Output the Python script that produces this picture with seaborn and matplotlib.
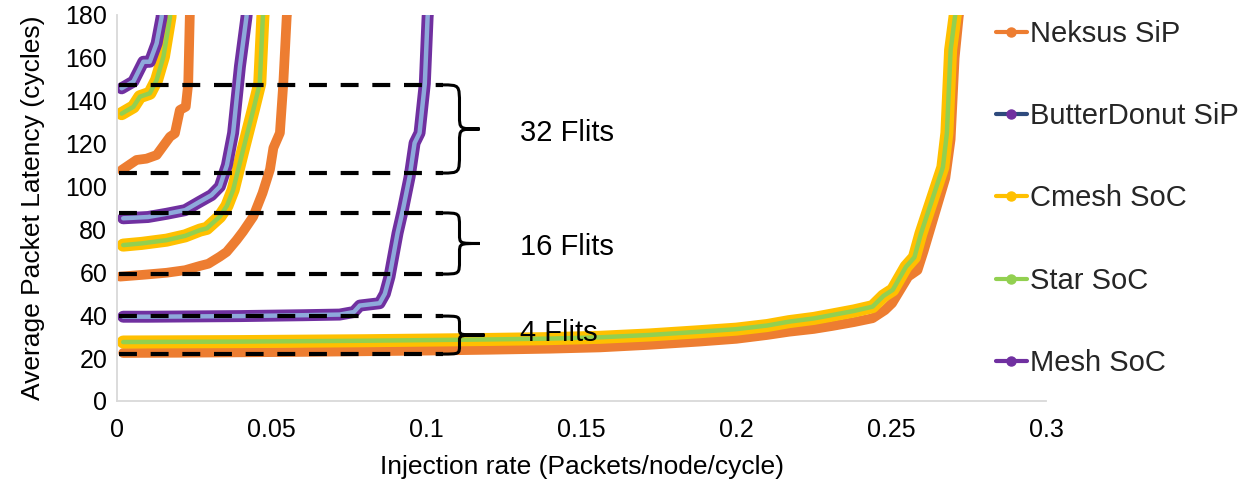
import matplotlib
matplotlib.use("Agg")
import matplotlib.pyplot as plt
from matplotlib.lines import Line2D
from matplotlib.path import Path
from matplotlib.patches import PathPatch
import pandas as pd
import seaborn as sns

# ---- latency curves: injection rate (packets/node/cycle) vs latency (cycles) ----
# 4-flit packets
neksus_4_x = [0.002, 0.02, 0.04, 0.06, 0.08, 0.10, 0.12, 0.14, 0.156, 0.172, 0.188, 0.20, 0.21,
              0.217, 0.225, 0.231, 0.238, 0.244, 0.248, 0.2503, 0.2555, 0.2585, 0.2605, 0.264,
              0.2675, 0.2692, 0.2705, 0.2718, 0.2728]
neksus_4_y = [22.4, 22.5, 22.7, 22.9, 23.2, 23.5, 23.9, 24.4, 25.0, 26.2, 27.7, 29.0, 30.8,
              32.3, 33.6, 35.0, 36.8, 38.6, 42.4, 45.6, 58.0, 61.0, 70.0, 87.0,
              104.0, 122.0, 160.0, 179.0, 190.0]
cmesh_4_x = [0.002, 0.02, 0.04, 0.06, 0.08, 0.10, 0.12, 0.14, 0.156, 0.172, 0.188, 0.20, 0.21,
             0.217, 0.225, 0.231, 0.238, 0.244, 0.2475, 0.2505, 0.2548, 0.2575, 0.2596, 0.2632,
             0.2667, 0.268, 0.2692, 0.2706, 0.2716]
cmesh_4_y = [27.5, 27.6, 27.7, 27.9, 28.1, 28.4, 28.7, 29.1, 29.7, 30.8, 32.3, 33.5, 35.2,
             37.0, 38.5, 40.1, 42.0, 44.0, 49.0, 51.8, 62.6, 67.0, 78.0, 93.7,
             109.0, 125.0, 163.7, 179.0, 190.0]
star_4_y = [27.5, 27.6, 27.7, 27.9, 28.1, 28.4, 28.7, 29.1, 29.7, 30.8, 32.3, 33.5, 35.2,
            37.0, 38.5, 40.1, 42.0, 44.0, 49.0, 51.8, 62.6, 67.0, 78.0, 93.7,
            109.0, 125.0, 163.7, 179.0, 190.0]
mesh_4_x = [0.002, 0.01, 0.02, 0.03, 0.04, 0.05, 0.06, 0.0719, 0.0765, 0.0784, 0.0848, 0.0865,
            0.088, 0.0906, 0.0923, 0.0945, 0.0961, 0.0977, 0.0994, 0.1003, 0.101]
mesh_4_y = [39.3, 39.3, 39.4, 39.5, 39.6, 39.8, 40.0, 40.3, 41.5, 44.5, 45.6, 50.0,
            58.0, 78.3, 89.0, 104.6, 120.3, 125.0, 148.0, 179.0, 192.0]
butter_4_y = [39.3, 39.3, 39.4, 39.5, 39.6, 39.8, 40.0, 40.3, 41.5, 44.5, 45.6, 50.0,
              58.0, 78.3, 89.0, 104.6, 120.3, 125.0, 148.0, 179.0, 192.0]

# 16-flit packets
neksus_16_x = [0.001, 0.008, 0.016, 0.022, 0.0268, 0.0295, 0.0332, 0.0354, 0.0386, 0.0407,
               0.044, 0.047, 0.0494, 0.0505, 0.0526, 0.0537, 0.0548, 0.0555]
neksus_16_y = [58.0, 58.8, 59.8, 61.0, 63.0, 64.0, 67.3, 69.5, 75.0, 79.0,
               86.0, 97.0, 108.0, 118.0, 125.0, 148.0, 179.0, 190.0]
cmesh_16_x = [0.002, 0.008, 0.016, 0.022, 0.0268, 0.029, 0.0332, 0.0355, 0.0375, 0.0407,
              0.044, 0.0461, 0.0471, 0.0477]
cmesh_16_y = [72.7, 73.5, 75.0, 77.0, 79.7, 80.5, 86.0, 91.0, 98.4, 117.0,
              135.7, 148.0, 179.0, 190.0]
star_16_y = [72.7, 73.5, 75.0, 77.0, 79.7, 80.5, 86.0, 91.0, 98.4, 117.0,
             135.7, 148.0, 179.0, 190.0]
mesh_16_x = [0.002, 0.01, 0.016, 0.022, 0.0268, 0.0305, 0.0332, 0.0355, 0.0375, 0.0397,
             0.0418, 0.0425]
mesh_16_y = [85.2, 85.8, 87.3, 89.0, 93.0, 96.0, 100.0, 110.0, 125.0, 156.0, 179.0, 190.0]
butter_16_y = [85.2, 85.8, 87.3, 89.0, 93.0, 96.0, 100.0, 110.0, 125.0, 156.0, 179.0, 190.0]

# 32-flit packets
neksus_32_x = [0.0015, 0.0063, 0.0095, 0.0128, 0.0171, 0.0187, 0.0203, 0.0222, 0.023, 0.0235,
               0.0238]
neksus_32_y = [107.7, 112.4, 113.0, 114.7, 123.2, 124.8, 135.7, 137.2, 148.0, 179.0, 190.0]
cmesh_32_x = [0.0015, 0.0053, 0.0074, 0.0106, 0.0128, 0.015, 0.0171, 0.0176]
cmesh_32_y = [134.0, 137.2, 141.9, 143.5, 149.7, 160.6, 179.0, 190.0]
star_32_y = [134.0, 137.2, 141.9, 143.5, 149.7, 160.6, 179.0, 190.0]
mesh_32_x = [0.0015, 0.0053, 0.0085, 0.0106, 0.0128, 0.0144, 0.0149]
mesh_32_y = [145.8, 149.0, 158.2, 158.2, 166.8, 179.0, 190.0]
butter_32_y = [145.8, 149.0, 158.2, 158.2, 166.8, 179.0, 190.0]

# packet-size groups: label, dashed bounds, label height
group_labels = ["4 Flits", "16 Flits", "32 Flits"]
group_low = [21.9, 59.2, 106.3]
group_high = [39.6, 87.7, 147.4]
group_label_y = [31.9, 71.6, 125.0]

x_ticks = [0, 0.05, 0.1, 0.15, 0.2, 0.25, 0.3]
x_tick_labels = ["0", "0.05", "0.1", "0.15", "0.2", "0.25", "0.3"]
y_ticks = list(range(0, 181, 20))

legend_order = ["Neksus SiP", "ButterDonut SiP", "Cmesh SoC", "Star SoC", "Mesh SoC"]

# ---- long-form table ----
curves = {
    "Neksus SiP": [(4, neksus_4_x, neksus_4_y), (16, neksus_16_x, neksus_16_y), (32, neksus_32_x, neksus_32_y)],
    "Cmesh SoC": [(4, cmesh_4_x, cmesh_4_y), (16, cmesh_16_x, cmesh_16_y), (32, cmesh_32_x, cmesh_32_y)],
    "Star SoC": [(4, cmesh_4_x, star_4_y), (16, cmesh_16_x, star_16_y), (32, cmesh_32_x, star_32_y)],
    "Mesh SoC": [(4, mesh_4_x, mesh_4_y), (16, mesh_16_x, mesh_16_y), (32, mesh_32_x, mesh_32_y)],
    "ButterDonut SiP": [(4, mesh_4_x, butter_4_y), (16, mesh_16_x, butter_16_y), (32, mesh_32_x, butter_32_y)],
}
rows = []
for topo, parts in curves.items():
    for flits, xs, ys in parts:
        for xv, yv in zip(xs, ys):
            rows.append({"topology": topo, "flits": flits, "rate": xv, "latency": yv})
df = pd.DataFrame(rows)

# ---- style ----
sns.set_theme(style="white")
plt.rcParams["font.family"] = ["Liberation Sans", "DejaVu Sans"]

ORANGE = "#ED7D31"
PURPLE = "#7030A0"
LIGHTBLUE = "#8EA9DB"
YELLOW = "#FFC000"
GREEN = "#92D050"
NAVY = "#2E4A7D"

# drawing order, colour and width of each series
styles = [
    ("Neksus SiP", ORANGE, 7.0),
    ("Cmesh SoC", YELLOW, 9.4),
    ("Star SoC", GREEN, 3.2),
    ("Mesh SoC", PURPLE, 8.6),
    ("ButterDonut SiP", LIGHTBLUE, 3.2),
]

fig = plt.figure(figsize=(12.48, 4.86), dpi=100)
ax = fig.add_axes([117 / 1248, 1 - 401 / 486, (1046 - 117) / 1248, (401 - 15) / 486])

for topo, color, lw in styles:
    sub = df[df["topology"] == topo]
    sns.lineplot(data=sub, x="rate", y="latency", units="flits", estimator=None, sort=False,
                 color=color, linewidth=lw, legend=False, ax=ax,
                 solid_capstyle="round", solid_joinstyle="round")

ax.set_xlim(0, 0.3)
ax.set_ylim(0, 180)
ax.set_xticks(x_ticks)
ax.set_xticklabels(x_tick_labels)
ax.set_yticks(y_ticks)
ax.tick_params(axis="both", length=0, labelsize=18, colors="#000000")
ax.tick_params(axis="x", pad=12)
ax.tick_params(axis="y", pad=7)

for side in ["top", "right"]:
    ax.spines[side].set_visible(False)
for side in ["left", "bottom"]:
    ax.spines[side].set_color("#D9D9D9")
    ax.spines[side].set_linewidth(1.3)

ax.set_xlabel("Injection rate (Packets/node/cycle)", fontsize=19, color="black")
ax.set_ylabel("Average Packet Latency (cycles)", fontsize=19, color="black")
ax.xaxis.set_label_coords(0.5, -0.14)
ax.yaxis.set_label_coords(-0.077, 0.5)


# ---- dashed bounds and curly braces for each packet size ----
def curly_brace(axis, x_left, x_mid, x_tip, y_top, y_bot):
    y_mid = (y_top + y_bot) / 2
    half = (y_top - y_bot) / 2
    r1 = 0.45 * half
    r2 = 0.3 * half
    verts = [
        (x_left, y_top), (x_mid, y_top), (x_mid, y_top), (x_mid, y_top - r1),
        (x_mid, y_mid + r2),
        (x_mid, y_mid), (x_mid, y_mid), (x_tip, y_mid),
        (x_mid, y_mid), (x_mid, y_mid), (x_mid, y_mid - r2),
        (x_mid, y_bot + r1),
        (x_mid, y_bot), (x_mid, y_bot), (x_left, y_bot),
    ]
    codes = [Path.MOVETO, Path.CURVE4, Path.CURVE4, Path.CURVE4,
             Path.LINETO,
             Path.CURVE4, Path.CURVE4, Path.CURVE4,
             Path.CURVE4, Path.CURVE4, Path.CURVE4,
             Path.LINETO,
             Path.CURVE4, Path.CURVE4, Path.CURVE4]
    patch = PathPatch(Path(verts, codes), facecolor="none", edgecolor="black", lw=2.2,
                      zorder=6, capstyle="butt")
    axis.add_patch(patch)


brace_tip = [0.1187, 0.1171, 0.1171]
for label, lo, hi, tip, ly in zip(group_labels, group_low, group_high, brace_tip, group_label_y):
    for yv in (lo, hi):
        ax.plot([0.0008, 0.1052], [yv, yv], color="black", lw=3.0, dashes=(4.3, 3.3),
                dash_capstyle="butt", zorder=5)
    curly_brace(ax, 0.1050, 0.1106, tip, hi, lo)
    ax.text(0.1303, ly, label, fontsize=21, ha="left", va="center",
            color="black", zorder=10)

# ---- legend ----
legend_line = {"Neksus SiP": ORANGE, "ButterDonut SiP": NAVY, "Cmesh SoC": YELLOW,
               "Star SoC": GREEN, "Mesh SoC": PURPLE}
legend_marker = {"Neksus SiP": ORANGE, "ButterDonut SiP": PURPLE, "Cmesh SoC": YELLOW,
                 "Star SoC": GREEN, "Mesh SoC": PURPLE}
handles = [Line2D([0], [0], color=legend_line[n], lw=3, marker="o", markersize=6.5,
                  markerfacecolor=legend_marker[n], markeredgecolor=legend_marker[n])
           for n in legend_order]
fig.legend(handles, legend_order, loc="upper left", bbox_to_anchor=(996 / 1248, 1 - 20 / 486),
           frameon=False, fontsize=21, handlelength=1.05, handletextpad=0.12,
           labelspacing=1.86, borderpad=0, borderaxespad=0)

fig.savefig("out.png", dpi=100)
